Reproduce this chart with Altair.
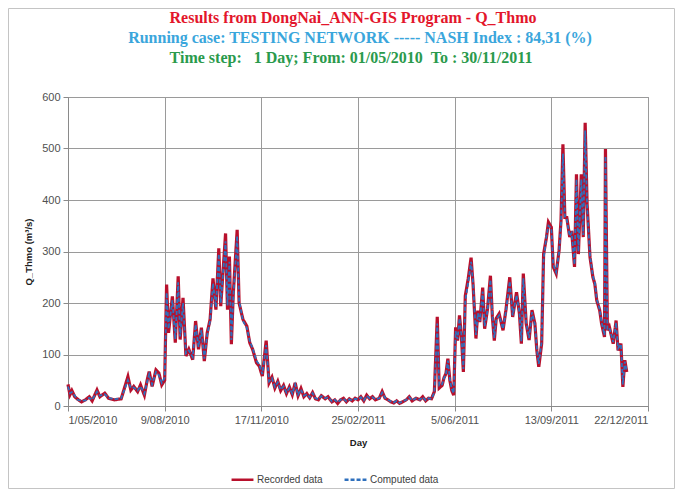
import altair as alt
import pandas as pd

# ---- data ----
days = [0, 2, 4, 7, 10, 14, 18, 22, 25, 30, 33, 38, 42, 48, 55, 62, 65, 68, 72, 75, 79, 82, 84, 87, 91, 94, 97,
        100, 102, 104, 108, 111, 114, 116, 119, 122, 125, 129, 132, 135, 138, 141, 144, 147, 150, 153, 156, 158,
        163, 165, 167, 169, 171, 175, 177, 181, 185, 188, 191, 195, 198, 201, 205, 208, 211, 214, 217, 220, 223,
        226, 229, 232, 235, 238, 241, 244, 247, 250, 253, 256, 259, 262, 266, 269, 273, 276, 279, 282, 285, 288,
        291, 294, 297, 300, 303, 306, 309, 312, 315, 318, 322, 325, 328, 331, 334, 337, 340, 343, 346, 350, 353,
        356, 360, 364, 367, 370, 373, 376, 379, 382, 384, 387, 389, 391, 393, 395, 397, 399, 401, 403, 405, 407,
        409, 411, 414, 417, 419, 422, 424, 426, 429, 431, 434, 437, 439, 441, 443, 446, 450, 453, 457, 460, 464,
        467, 469, 471, 474, 477, 480, 483, 485, 487, 490, 492, 495, 497, 500, 502, 505, 508, 510, 512, 514, 516,
        519, 521, 524, 526, 528, 531, 533, 535, 537, 540, 543, 545, 547, 550, 552, 555, 556, 558, 560, 564, 567,
        569, 572, 574, 576, 578]

recorded = [42, 22, 30, 18, 13, 8, 12, 18, 10, 31, 18, 25, 15, 12, 14, 57, 31, 38, 28, 41, 21, 51, 67, 38, 70, 64, 41,
            50, 236, 142, 213, 123, 252, 129, 210, 97, 110, 90, 165, 110, 152, 87, 142, 168, 248, 187, 306, 194,
            335, 187, 290, 120, 219, 342, 200, 168, 155, 123, 110, 84, 77, 58, 127, 45, 56, 35, 48, 30, 40,
            24, 37, 22, 45, 20, 34, 18, 24, 16, 26, 14, 12, 20, 14, 18, 8, 12, 5, 12, 15, 8,
            14, 10, 15, 12, 18, 10, 21, 14, 18, 12, 15, 28, 15, 12, 8, 6, 10, 5, 8, 12, 18,
            10, 15, 12, 18, 10, 15, 14, 28, 173, 35, 40, 55, 63, 92, 50, 30, 21, 153, 127, 176, 134,
            66, 214, 247, 288, 237, 131, 185, 163, 230, 150, 189, 253, 173, 127, 170, 179, 147, 186, 250, 173, 221,
            179, 121, 257, 160, 128, 186, 160, 108, 76, 121, 295, 328, 357, 347, 270, 257, 302, 360, 508, 366, 366,
            328, 340, 270, 450, 295, 450, 328, 550, 392, 289, 250, 237, 205, 186, 160, 134, 499, 147, 154, 121, 166,
            108, 121, 37, 89, 66]

computed = [38, 25, 27, 20, 12, 10, 11, 16, 12, 28, 20, 23, 16, 13, 15, 50, 35, 36, 30, 38, 24, 48, 62, 42, 66, 60, 45,
            55, 220, 150, 205, 130, 240, 135, 200, 102, 108, 95, 158, 115, 148, 92, 138, 165, 238, 192, 295, 200,
            320, 195, 280, 128, 212, 330, 205, 165, 152, 126, 112, 88, 80, 62, 118, 48, 54, 37, 46, 32, 38,
            26, 35, 24, 42, 22, 32, 20, 23, 17, 25, 15, 13, 19, 15, 17, 9, 12, 7, 12, 14, 9,
            13, 11, 14, 13, 17, 11, 20, 15, 17, 13, 15, 26, 16, 12, 9, 7, 10, 6, 9, 12, 17,
            11, 15, 12, 17, 11, 15, 14, 26, 160, 40, 42, 54, 62, 88, 52, 33, 25, 145, 130, 170, 138,
            72, 205, 240, 280, 240, 138, 180, 165, 222, 155, 186, 245, 176, 132, 168, 176, 150, 183, 242, 176, 215,
            182, 126, 248, 162, 132, 182, 158, 112, 82, 125, 285, 330, 350, 345, 275, 260, 298, 355, 490, 368, 362,
            330, 336, 275, 440, 300, 440, 332, 535, 388, 292, 252, 240, 208, 188, 162, 138, 485, 150, 152, 124, 162,
            112, 120, 42, 86, 68]

series_names = ["Recorded data", "Computed data"]
x_tick_values = [0, 100, 200, 300, 400, 500, 600]
x_tick_labels = ["1/05/2010", "9/08/2010", "17/11/2010", "25/02/2011", "5/06/2011", "13/09/2011", "22/12/2011"]
y_tick_values = [0, 100, 200, 300, 400, 500, 600]

NB = "\u00a0"
title_lines = [
    "Results from DongNai_ANN-GIS Program - Q_Thmo",
    "Running case: TESTING NETWORK ----- NASH Index : 84,31 (%)",
    "Time step:" + NB * 3 + "1 Day; From: 01/05/2010" + NB * 2 + "To : 30/11/2011",
]
title_colors = ["#e3162b", "#3aa6dc", "#2a9a4c"]

# ---- build tables ----
df_rec = pd.DataFrame({"day": days, "q": recorded, "series": series_names[0]})
df_cmp = pd.DataFrame({"day": days, "q": computed, "series": series_names[1]})

label_expr = "[" + ",".join("'%s'" % s for s in x_tick_labels) + "][round(datum.value/100)]"

color_scale = alt.Scale(domain=series_names, range=["#b8102c", "#2f70bd"])
dash_scale = alt.Scale(domain=series_names, range=[[1, 0], [4, 2]])

x_enc = alt.X("day:Q",
              scale=alt.Scale(domain=[0, 600], nice=False),
              axis=alt.Axis(values=x_tick_values, labelExpr=label_expr, title="Day",
                            grid=True, tickSize=5, labelPadding=3, titlePadding=12))
y_enc = alt.Y("q:Q",
              scale=alt.Scale(domain=[0, 600], nice=False),
              axis=alt.Axis(values=y_tick_values, title="Q_Thmo  (m³/s)", grid=True,
                            tickSize=5, labelPadding=3, titlePadding=8))

legend = alt.Legend(title=None, orient="none", legendX=162, legendY=370, direction="horizontal",
                    symbolType="stroke", symbolSize=480, symbolStrokeWidth=2.5,
                    labelFontSize=10, labelColor="#404040", labelFont="Liberation Sans",
                    columnPadding=16, symbolOffset=0, labelOffset=2)

rec_line = alt.Chart(df_rec).mark_line(strokeWidth=3.2, interpolate="linear").encode(
    x=x_enc, y=y_enc,
    color=alt.Color("series:N", scale=color_scale, legend=legend),
    strokeDash=alt.StrokeDash("series:N", scale=dash_scale, legend=legend),
)
cmp_line = alt.Chart(df_cmp).mark_line(strokeWidth=1.8, interpolate="linear").encode(
    x=x_enc, y=y_enc,
    color=alt.Color("series:N", scale=color_scale, legend=legend),
    strokeDash=alt.StrokeDash("series:N", scale=dash_scale, legend=legend),
)

title_y = [-79, -59, -39]
title_x = [285, 292, 283]
title_layers = []
for i, line in enumerate(title_lines):
    title_layers.append(
        alt.Chart(pd.DataFrame({"t": [line]})).mark_text(
            font="Liberation Serif", fontWeight="bold", fontSize=16, color=title_colors[i],
            align="center", baseline="middle"
        ).encode(text="t:N", x=alt.value(title_x[i]), y=alt.value(title_y[i]))
    )

border = alt.Chart(pd.DataFrame({"b": [1]})).mark_rect(
    filled=False, color="#c4c4c4", strokeWidth=1
).encode(x=alt.value(-59.5), x2=alt.value(606.5), y=alt.value(-88.5), y2=alt.value(391.5))

chart = alt.layer(border, rec_line, cmp_line, *title_layers).properties(
    width=580, height=309,
    autosize=alt.AutoSizeParams(type="none"),
    padding={"left": 60, "top": 89, "right": 27, "bottom": 83},
    background="white",
).configure_axis(
    gridColor="#9a9a9a", gridWidth=1, domainColor="#8a8a8a", tickColor="#8a8a8a",
    labelFont="Liberation Sans", labelFontSize=11, labelColor="#505050",
    titleFont="Liberation Sans", titleFontSize=9.5, titleFontWeight="bold", titleColor="#202020",
).configure_view(
    stroke="#8a8a9a", strokeWidth=1
)

chart.save("out.html", embed_options={"renderer": "svg", "actions": False})
